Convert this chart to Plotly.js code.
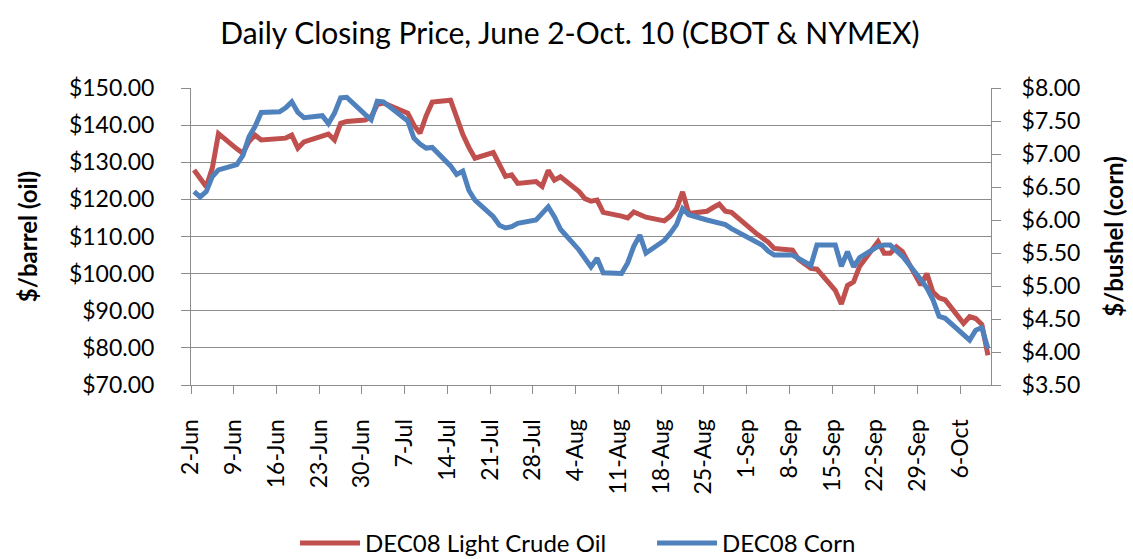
<!DOCTYPE html>
<html><head><meta charset="utf-8">
<script src="https://cdn.plot.ly/plotly-3.0.1.min.js"></script>
<style>html,body{margin:0;padding:0;background:#fff}#chart{width:1133px;height:559px}</style>
</head><body><div id="chart"></div>
<script>
const tradeDates = [
 '2008-06-02','2008-06-03','2008-06-04','2008-06-05','2008-06-06','2008-06-09','2008-06-10','2008-06-11','2008-06-12','2008-06-13',
 '2008-06-16','2008-06-17','2008-06-18','2008-06-19','2008-06-20','2008-06-23','2008-06-24','2008-06-25','2008-06-26','2008-06-27','2008-06-30',
 '2008-07-01','2008-07-02','2008-07-03','2008-07-07','2008-07-08','2008-07-09','2008-07-10','2008-07-11','2008-07-14','2008-07-15','2008-07-16',
 '2008-07-17','2008-07-18','2008-07-21','2008-07-22','2008-07-23','2008-07-24','2008-07-25','2008-07-28','2008-07-29','2008-07-30','2008-07-31',
 '2008-08-01','2008-08-04','2008-08-05','2008-08-06','2008-08-07','2008-08-08','2008-08-11','2008-08-12','2008-08-13','2008-08-14','2008-08-15',
 '2008-08-18','2008-08-19','2008-08-20','2008-08-21','2008-08-22','2008-08-25','2008-08-26','2008-08-27','2008-08-28','2008-08-29',
 '2008-09-02','2008-09-03','2008-09-04','2008-09-05','2008-09-08','2008-09-09','2008-09-10','2008-09-11','2008-09-12','2008-09-15','2008-09-16',
 '2008-09-17','2008-09-18','2008-09-19','2008-09-22','2008-09-23','2008-09-24','2008-09-25','2008-09-26','2008-09-29','2008-09-30',
 '2008-10-01','2008-10-02','2008-10-03','2008-10-06','2008-10-07','2008-10-08','2008-10-09','2008-10-10'
];
const oilDec08 = [
 127.9,125.6,123.4,128.5,137.7,133.6,132.4,135.6,137.3,136.0,
 136.3,136.5,137.3,133.8,135.5,137.2,137.6,136.0,140.5,141.0,141.4,
 142.2,145.5,146.0,143.2,140.0,137.8,142.5,146.2,146.7,142.0,137.5,
 134.0,131.1,132.6,129.5,126.2,126.6,124.3,124.8,123.5,127.8,125.2,
 126.1,122.2,120.2,119.5,119.8,116.5,115.5,115.0,116.6,115.8,115.2,
 114.2,115.5,117.5,122.0,116.2,116.8,117.8,118.7,116.8,116.5,
 110.9,109.8,108.5,106.8,106.3,103.8,102.5,101.4,101.2,95.5,91.8,
 96.8,97.8,102.0,108.6,105.5,105.5,107.2,105.9,96.9,100.0,
 95.0,93.5,92.9,86.6,88.4,87.9,86.3,78.0
];
const cornDec08 = [
 6.43,6.35,6.43,6.66,6.76,6.84,6.98,7.26,7.42,7.63,
 7.64,7.70,7.79,7.63,7.55,7.58,7.46,7.62,7.85,7.86,7.60,
 7.52,7.80,7.79,7.50,7.24,7.15,7.09,7.10,6.82,6.69,6.74,
 6.45,6.30,6.05,5.92,5.88,5.90,5.95,6.00,6.10,6.20,6.05,
 5.86,5.55,5.42,5.29,5.42,5.20,5.19,5.35,5.60,5.77,5.50,
 5.69,5.80,5.93,6.17,6.08,6.00,5.98,5.95,5.93,5.87,
 5.66,5.62,5.53,5.47,5.47,5.42,5.35,5.31,5.62,5.62,5.30,
 5.52,5.29,5.43,5.60,5.62,5.62,5.54,5.45,5.10,4.97,
 4.79,4.54,4.51,4.25,4.18,4.33,4.37,4.05
];
const tickDates = ['2008-06-02','2008-06-09','2008-06-16','2008-06-23','2008-06-30','2008-07-07','2008-07-14','2008-07-21','2008-07-28',
 '2008-08-04','2008-08-11','2008-08-18','2008-08-25','2008-09-01','2008-09-08','2008-09-15','2008-09-22','2008-09-29','2008-10-06'];
const tickLabels = ['2-Jun','9-Jun','16-Jun','23-Jun','30-Jun','7-Jul','14-Jul','21-Jul','28-Jul',
 '4-Aug','11-Aug','18-Aug','25-Aug','1-Sep','8-Sep','15-Sep','22-Sep','29-Sep','6-Oct'];
const oilName = 'DEC08 Light Crude Oil';
const cornName = 'DEC08 Corn';
const titleText = 'Daily Closing Price, June 2-Oct. 10 (CBOT & NYMEX)';

const FONT = 'Lato, "Open Sans", sans-serif';
const GRID = '#8c8c8c';
// plot each close at the middle of its day slot
const xs = tradeDates.map(d => d + ' 12:00');

const traces = [
  {x: xs, y: oilDec08, name: oilName, type: 'scatter', mode: 'lines', yaxis: 'y',
   line: {color: '#C0504D', width: 5}},
  {x: xs, y: cornDec08, name: cornName, type: 'scatter', mode: 'lines', yaxis: 'y2',
   line: {color: '#4F81BD', width: 5}}
];

const layout = {
  width: 1133, height: 559,
  margin: {l: 191, r: 142, t: 88, b: 174},
  paper_bgcolor: '#fff', plot_bgcolor: '#fff',
  font: {family: FONT, size: 23, color: '#000'},
  title: {text: titleText, font: {family: FONT, size: 30, color: '#000'},
          x: 0.503, xanchor: 'center', y: 0.94, yanchor: 'middle', xref: 'container'},
  xaxis: {type: 'date', range: ['2008-06-02', '2008-10-11'],
          tickmode: 'array', tickvals: tickDates, ticktext: tickLabels, tickangle: -90,
          ticks: 'outside', ticklen: 8, tickcolor: GRID, tickwidth: 1,
          ticklabelstandoff: 16,
          showline: true, linecolor: GRID, linewidth: 1, showgrid: false, zeroline: false,
          tickfont: {family: FONT, size: 23}, automargin: false},
  yaxis: {range: [70, 150], dtick: 10, tick0: 70, tickprefix: '$', tickformat: '.2f',
          ticks: 'outside', ticklen: 9, tickcolor: GRID, ticklabelstandoff: 22,
          showline: true, linecolor: GRID, showgrid: true, gridcolor: GRID, gridwidth: 1, zeroline: false,
          tickfont: {family: FONT, size: 23}, automargin: false,
          title: {text: '<b>$/barrel (oil)</b>', font: {family: FONT, size: 24}, standoff: 24}},
  yaxis2: {range: [3.5, 8], dtick: 0.5, tick0: 3.5, tickprefix: '$', tickformat: '.2f',
           overlaying: 'y', side: 'right',
           ticks: 'outside', ticklen: 9, tickcolor: GRID, ticklabelstandoff: 16,
           showline: true, linecolor: GRID, showgrid: false, zeroline: false,
           tickfont: {family: FONT, size: 23}, automargin: false,
           title: {text: '<b>$/bushel (corn)</b>', font: {family: FONT, size: 24}, standoff: 26}},
  showlegend: true,
  legend: {orientation: 'h', xref: 'container', yref: 'container', x: 0.2604, xanchor: 'left',
           y: 0.028, yanchor: 'middle', font: {family: FONT, size: 24}, itemwidth: 60,
           entrywidth: 282, entrywidthmode: 'pixels',
           bgcolor: 'rgba(0,0,0,0)'}
};

Plotly.newPlot('chart', traces, layout, {displayModeBar: false, staticPlot: true});
</script></body></html>
